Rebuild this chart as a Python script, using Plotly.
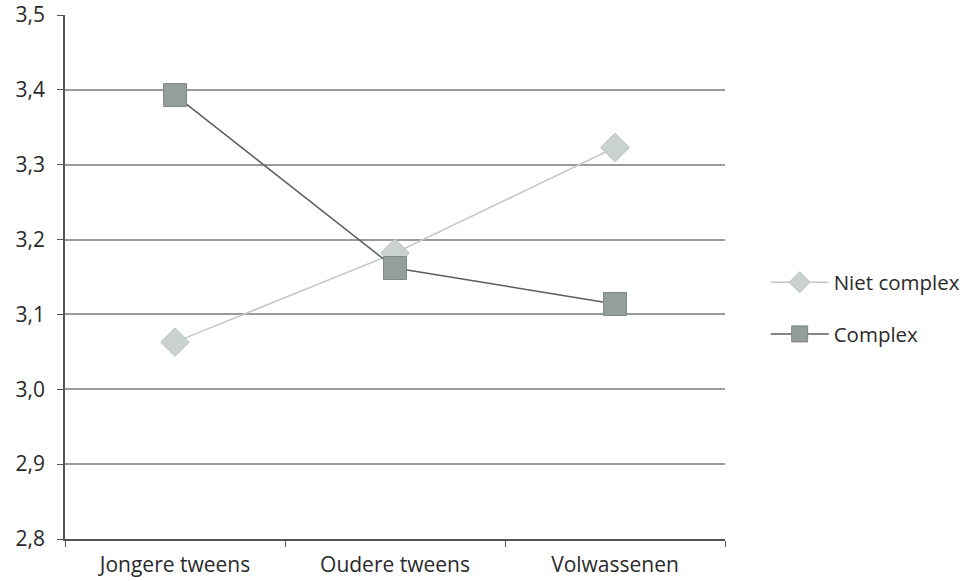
import plotly.graph_objects as go

# Leeftijdsgroepen op de x-as
categories = ["Jongere tweens", "Oudere tweens", "Volwassenen"]

# Gemiddelde scores per conditie
niet_complex = [3.063, 3.182, 3.323]
complex_vals = [3.393, 3.162, 3.114]

y_ticks = [2.8, 2.9, 3.0, 3.1, 3.2, 3.3, 3.4, 3.5]

fig = go.Figure()

fig.add_trace(go.Scatter(
    x=categories, y=niet_complex, name="Niet complex",
    mode="lines+markers", legendgroup="a",
    line=dict(color="#c4c8c7", width=1.5),
    marker=dict(symbol="diamond", size=22, color="#c9d2cf",
                line=dict(color="#b8c0bd", width=1)),
))
fig.add_trace(go.Scatter(
    x=categories, y=complex_vals, name="Complex",
    mode="lines+markers", legendgroup="b",
    line=dict(color="#5a5e5d", width=1.5),
    marker=dict(symbol="square", size=23, color="#949e9a",
                line=dict(color="#7f8884", width=1)),
))

fig.update_layout(
    width=977, height=581,
    margin=dict(l=65, r=251, t=15, b=42),
    paper_bgcolor="white", plot_bgcolor="white",
    separators=", ",
    font=dict(family="Open Sans", size=21, color="#2a2a2a"),
    legend=dict(x=1.06, y=0.44, yanchor="middle", xanchor="left",
                tracegroupgap=22, font=dict(size=20.5), itemwidth=58,
                bgcolor="rgba(0,0,0,0)"),
    xaxis=dict(
        type="category", tickson="boundaries", ticks="outside",
        ticklen=6, tickcolor="#555", showline=True, linecolor="#555",
        linewidth=1.5, showgrid=False, range=[-0.5, 2.5],
        automargin=False, ticklabelstandoff=6,
    ),
    yaxis=dict(
        range=[2.8, 3.5], tickvals=y_ticks, tickformat=".1f",
        ticks="outside", ticklen=6, tickcolor="#555",
        showline=True, linecolor="#555", linewidth=1.5,
        showgrid=True, gridcolor="#9a9a9a", gridwidth=1.5,
        zeroline=False, automargin=False, ticklabelstandoff=8,
    ),
)

fig.write_html("out.html")
